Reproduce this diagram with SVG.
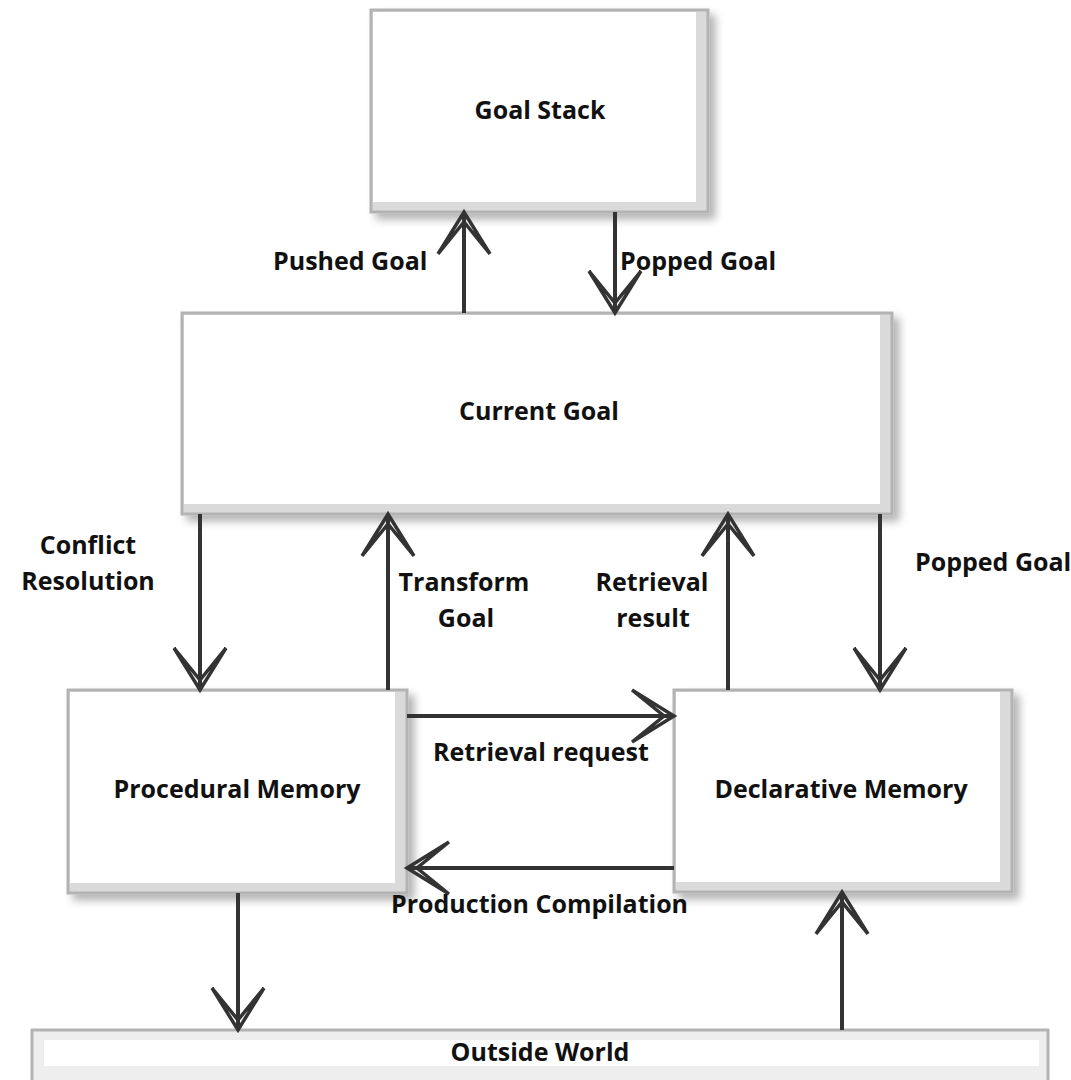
<svg xmlns="http://www.w3.org/2000/svg" width="1071" height="1080" viewBox="0 0 1071 1080">
<defs>
<filter id="sh" x="-10%" y="-10%" width="130%" height="130%">
<feGaussianBlur in="SourceAlpha" stdDeviation="4"/>
<feOffset dx="6" dy="6" result="b"/>
<feComponentTransfer><feFuncA type="linear" slope="0.3"/></feComponentTransfer>
<feMerge><feMergeNode/><feMergeNode in="SourceGraphic"/></feMerge>
</filter>
<marker id="ah" markerUnits="userSpaceOnUse" markerWidth="60" markerHeight="60" refX="50" refY="30" orient="auto">
<path d="M8,4 L50,30 L8,56 M8,4 L40,30 L8,56" fill="none" stroke="#333" stroke-width="3.5" stroke-linejoin="miter"/>
</marker>
</defs>
<style>
.box{fill:#dadada;stroke:#b3b3b3;stroke-width:3}
.in{fill:#fff}
.t{font-family:"Open Sans","Noto Sans","Liberation Sans",sans-serif;font-weight:bold;font-size:25px;fill:#111}
.m{text-anchor:middle}
.c{fill:none;stroke:#333;stroke-width:4;marker-end:url(#ah)}
</style>
<rect width="1071" height="1080" fill="#fff"/>
<g id="goal-stack">
<g filter="url(#sh)">
<rect class="box" x="371" y="10" width="337" height="202"/>
<rect class="in" x="373" y="12" width="323" height="190"/>
</g>
<text class="t m" x="540" y="119">Goal Stack</text>
</g>
<g id="current-goal">
<g filter="url(#sh)">
<rect class="box" x="182" y="313" width="710" height="201"/>
<rect class="in" x="184" y="315" width="696" height="189"/>
</g>
<text class="t m" x="539" y="420">Current Goal</text>
</g>
<g id="procedural-memory">
<g filter="url(#sh)">
<rect class="box" x="68" y="690" width="339" height="203"/>
<rect class="in" x="70" y="692" width="325" height="191"/>
</g>
<text class="t m" x="237" y="798">Procedural Memory</text>
</g>
<g id="declarative-memory">
<g filter="url(#sh)">
<rect class="box" x="674" y="690" width="338" height="202"/>
<rect class="in" x="676" y="692" width="324" height="190"/>
</g>
<text class="t m" x="841" y="798">Declarative Memory</text>
</g>
<g id="outside-world">
<rect x="32" y="1030" width="1016" height="56" fill="#eeeeee" stroke="#b3b3b3" stroke-width="3"/>
<rect class="in" x="44" y="1040" width="995" height="26"/>
<text class="t m" x="540" y="1061">Outside World</text>
</g>
<g id="connectors">
<path class="c" d="M464,313 V212"/>
<path class="c" d="M615,212 V313"/>
<path class="c" d="M200,514 V690"/>
<path class="c" d="M388,690 V514"/>
<path class="c" d="M728,690 V514"/>
<path class="c" d="M880,514 V690"/>
<path class="c" d="M407,716 H674"/>
<path class="c" d="M674,868 H407"/>
<path class="c" d="M238,893 V1030"/>
<path class="c" d="M842,1030 V892"/>
</g>
<g id="labels">
<text class="t" x="273" y="270">Pushed Goal</text>
<text class="t" x="620" y="270">Popped Goal</text>
<text class="t m" x="88" y="554">Conflict</text>
<text class="t m" x="88" y="590">Resolution</text>
<text class="t m" x="464" y="591">Transform</text>
<text class="t m" x="466" y="627">Goal</text>
<text class="t m" x="652" y="591">Retrieval</text>
<text class="t m" x="653" y="627">result</text>
<text class="t" x="915" y="571">Popped Goal</text>
<text class="t" x="433" y="761">Retrieval request</text>
<text class="t" x="391" y="913">Production Compilation</text>
</g>
</svg>
